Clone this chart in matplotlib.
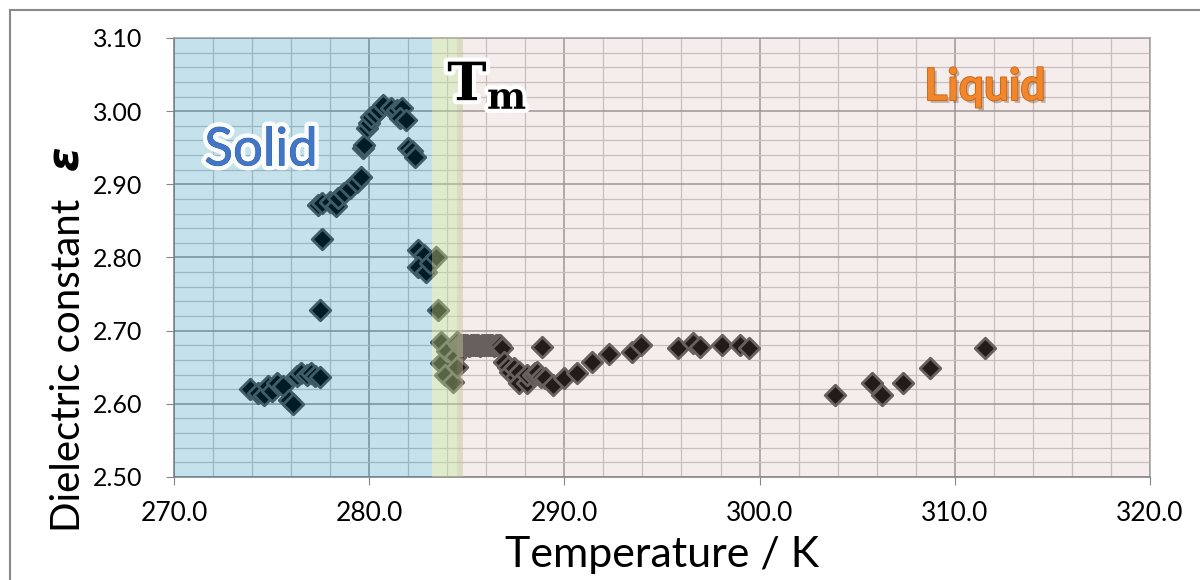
import matplotlib.pyplot as plt
import matplotlib.patheffects as pe
from matplotlib.lines import Line2D
from matplotlib.ticker import MultipleLocator, FormatStrFormatter

plt.rcParams['font.family'] = ['Lato', 'DejaVu Sans']
plt.rcParams['mathtext.fontset'] = 'custom'
plt.rcParams['mathtext.rm'] = 'DejaVu Serif'
plt.rcParams['mathtext.bf'] = 'DejaVu Serif:bold'

# solid phase (below melting band)
temp_solid = [273.9, 274.3, 274.6, 274.8, 275.0, 275.3, 275.6, 275.9, 276.1, 276.3,
              276.5, 276.8, 277.0, 277.2, 277.5, 277.5, 277.6,
              277.4, 277.6, 278.0, 278.3, 278.4, 278.7, 279.0, 279.4, 279.6,
              279.7, 279.75, 279.9, 280.0, 280.1, 280.3, 280.5, 280.7, 281.1, 281.4,
              281.7, 281.6, 281.9, 282.0, 282.2, 282.35,
              282.5, 282.8, 282.5, 282.9, 283.1]
eps_solid = [2.620, 2.615, 2.612, 2.625, 2.618, 2.628, 2.625, 2.605, 2.600, 2.638,
             2.642, 2.640, 2.642, 2.638, 2.636, 2.728, 2.825,
             2.872, 2.875, 2.876, 2.870, 2.881, 2.888, 2.895, 2.903, 2.910,
             2.950, 2.954, 2.977, 2.984, 2.992, 2.996, 3.002, 3.008, 3.004, 3.002,
             3.004, 2.991, 2.988, 2.950, 2.945, 2.937,
             2.810, 2.803, 2.787, 2.780, 2.793]

# melting band
temp_melt = [283.4, 283.5, 283.7, 283.7, 283.9, 284.0, 284.3, 284.4, 284.5, 284.5]
eps_melt = [2.801, 2.728, 2.685, 2.656, 2.640, 2.672, 2.630, 2.664, 2.685, 2.650]

# liquid phase
temp_liquid = [284.6, 284.7, 284.8, 284.9, 285.0, 285.1, 285.2, 285.3, 285.4, 285.5,
               285.6, 285.7, 285.8, 285.9, 286.0, 286.1, 286.2, 286.3, 286.4, 286.5,
               286.6, 286.7, 286.8,
               286.9, 287.1, 287.2, 287.4, 287.5, 287.7, 287.7, 288.1, 288.1, 288.4,
               288.5, 288.6, 288.8, 288.85, 289.0, 289.4, 290.0, 290.65, 291.4, 292.3,
               293.45, 293.95, 295.8, 296.6, 296.95, 298.1, 299.0, 299.45,
               303.85, 305.75, 306.25, 307.35, 308.75, 311.55]
eps_liquid = [2.680, 2.680, 2.681, 2.680, 2.680, 2.679, 2.680, 2.681, 2.680, 2.680,
              2.680, 2.679, 2.680, 2.680, 2.681, 2.680, 2.680, 2.680, 2.679, 2.680,
              2.680, 2.680, 2.676,
              2.657, 2.650, 2.644, 2.649, 2.637, 2.644, 2.628, 2.628, 2.639, 2.639,
              2.642, 2.644, 2.637, 2.678, 2.635, 2.626, 2.635, 2.642, 2.657, 2.668,
              2.671, 2.681, 2.676, 2.683, 2.678, 2.680, 2.680, 2.676,
              2.612, 2.628, 2.612, 2.628, 2.649, 2.676]

fig = plt.figure(figsize=(12, 5.8), dpi=100)
ax = fig.add_axes([0.145, 0.1776, 0.8133, 0.7569])

for t, e in [(temp_solid, eps_solid), (temp_melt, eps_melt), (temp_liquid, eps_liquid)]:
    ax.scatter(t, e, marker='D', s=110, c='black', edgecolors='#545454',
               linewidths=2, zorder=2)

# phase regions drawn over the points, semi transparent
ax.axvspan(270, 283.2, color='#007ba7', alpha=0.227, lw=0, zorder=3)
ax.axvspan(283.2, 284.8, color='#bfd595', alpha=0.47, lw=0, zorder=3)
ax.axvspan(284.5, 320, color='#c79494', alpha=0.176, lw=0, zorder=3)

ax.set_xlim(270, 320)
ax.set_ylim(2.5, 3.1)
ax.xaxis.set_major_locator(MultipleLocator(10))
ax.xaxis.set_minor_locator(MultipleLocator(2))
ax.yaxis.set_major_locator(MultipleLocator(0.1))
ax.yaxis.set_minor_locator(MultipleLocator(0.02))
ax.xaxis.set_major_formatter(FormatStrFormatter('%.1f'))
ax.yaxis.set_major_formatter(FormatStrFormatter('%.2f'))

ax.set_axisbelow(True)
ax.grid(which='major', color='#969696', lw=1.1)
ax.grid(which='minor', color='#c8c8c8', lw=0.9)
ax.tick_params(which='minor', length=0)
ax.tick_params(axis='y', which='major', length=6, color='#868686', labelsize=18, pad=17)
ax.tick_params(axis='x', which='major', length=6, color='#868686', labelsize=19, pad=11)
for s in ['left', 'bottom']:
    ax.spines[s].set_color('#868686')
    ax.spines[s].set_linewidth(1.2)
for s in ['top', 'right']:
    ax.spines[s].set_color('#a0a0a0')
    ax.spines[s].set_linewidth(1.1)

ax.set_xlabel('Temperature / K', fontsize=31)
ax.xaxis.set_label_coords(0.5, -0.134)
ax.set_ylabel('Dielectric constant', fontsize=29)
ax.yaxis.set_label_coords(-0.089, 0.255)
fig.text(66 / 1200, 1 - 158 / 580, 'ε', fontsize=32, fontweight='bold', style='italic',
         family='DejaVu Sans', rotation=90, ha='center', va='center')

# region labels
ax.text(274.46, 2.926, 'Solid', fontsize=38, family='Lato', color='#4277c8',
        ha='center', va='baseline', zorder=5,
        path_effects=[pe.withSimplePatchShadow(offset=(1.5, -1.5), alpha=0.3),
                      pe.Stroke(linewidth=7, foreground='white', alpha=0.95),
                      pe.Stroke(linewidth=0.6, foreground='#2a5596'), pe.Normal()])
ax.text(284.0, 3.015, r'$\mathbf{T}_{\mathbf{m}}$', fontsize=38, color='black',
        ha='left', va='baseline', zorder=5,
        path_effects=[pe.withSimplePatchShadow(offset=(1.5, -1.5), alpha=0.4),
                      pe.Stroke(linewidth=6, foreground='white'), pe.Normal()])
ax.text(311.55, 3.015, 'Liquid', fontsize=32, fontweight='bold', color='#f2862a',
        ha='center', va='baseline', zorder=5,
        path_effects=[pe.withSimplePatchShadow(offset=(2, -2), alpha=0.3),
                      pe.Stroke(linewidth=1.2, foreground='#c8620f'), pe.Normal()])

# chart area frame
fig.add_artist(Line2D([10 / 1200, 10 / 1200], [0, 1 - 10 / 580], color='#898989', lw=1.5))
fig.add_artist(Line2D([10 / 1200, 1], [1 - 10 / 580, 1 - 10 / 580], color='#898989', lw=1.5))

fig.savefig('out.png', dpi=100)
